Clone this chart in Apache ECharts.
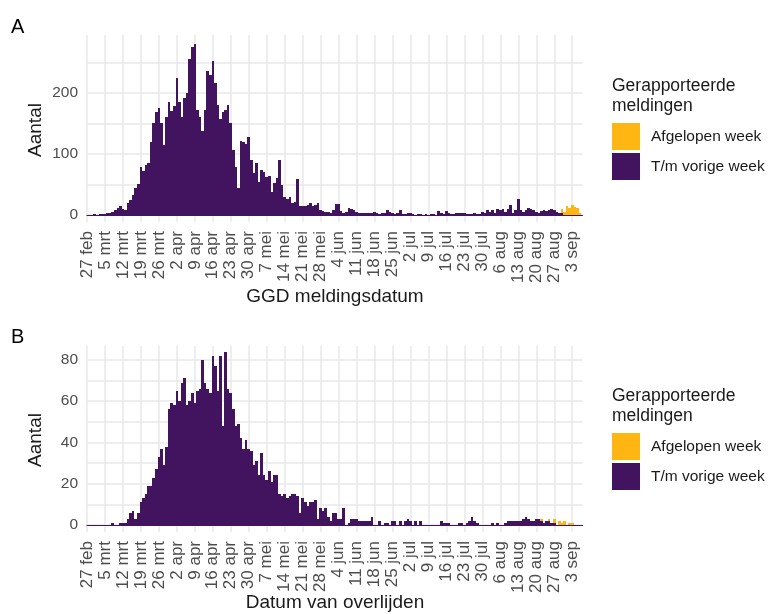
<!DOCTYPE html>
<html><head><meta charset="utf-8">
<script src="https://cdn.jsdelivr.net/npm/echarts@6/dist/echarts.min.js"></script>
<style>html,body{margin:0;padding:0;background:#fff}#c{width:771px;height:614px}</style>
</head><body><div id="c"></div>
<script>
// ---- data ----
const startDate = '2020-02-27';
const dayCount = 194;
const weekLabels = ['27 feb','5 mrt','12 mrt','19 mrt','26 mrt','2 apr','9 apr','16 apr','23 apr','30 apr',
  '7 mei','14 mei','21 mei','28 mei','4 jun','11 jun','18 jun','25 jun','2 jul','9 jul','16 jul','23 jul',
  '30 jul','6 aug','13 aug','20 aug','27 aug','3 sep'];
const yTicksA = [0, 50, 100, 150, 200, 250];
const yLabelsA = [0, 100, 200];
const yTicksB = [0, 10, 20, 30, 40, 50, 60, 70, 80];
const yLabelsB = [0, 20, 40, 60, 80];

const meldingenVorigeWeek = [
  0,0,0,1,0,1,1,2,3,4,
  5,8,12,14,9,8,20,25,33,45,
  50,78,72,82,85,120,150,168,175,150,
  115,160,185,170,178,225,185,160,192,200,
  255,275,280,172,160,138,172,236,230,253,
  217,180,158,168,172,180,150,106,78,45,
  122,120,116,128,90,68,85,54,73,71,
  62,64,37,52,60,90,49,30,27,30,
  19,22,59,14,14,14,16,20,15,16,
  20,8,7,5,5,4,8,18,18,7,
  4,5,11,9,8,5,4,4,4,3,
  3,4,5,3,2,3,4,8,5,3,
  2,4,8,2,2,3,3,1,0,1,
  1,0,2,0,1,2,0,7,3,1,
  7,3,1,2,4,4,4,3,2,1,
  2,4,2,2,5,3,8,5,8,3,
  9,8,10,5,9,16,3,8,27,8,
  5,8,11,10,8,5,3,7,8,7,
  8,10,8,5,3,4,0,0,0,0,
  0,0,0,0];
const meldingenAfgelopenWeek = [
  0,0,0,0,0,0,0,0,0,0, 0,0,0,0,0,0,0,0,0,0, 0,0,0,0,0,0,0,0,0,0,
  0,0,0,0,0,0,0,0,0,0, 0,0,0,0,0,0,0,0,0,0, 0,0,0,0,0,0,0,0,0,0,
  0,0,0,0,0,0,0,0,0,0, 0,0,0,0,0,0,0,0,0,0, 0,0,0,0,0,0,0,0,0,0,
  0,0,0,0,0,0,0,0,0,0, 0,0,0,0,0,0,0,0,0,0, 0,0,0,0,0,0,0,0,0,0,
  0,0,0,0,0,0,0,0,0,0, 0,0,0,0,0,0,0,0,0,0, 0,0,0,0,0,0,0,0,0,0,
  0,0,0,0,0,0,0,0,0,0, 0,0,0,0,0,0,0,0,0,0, 0,0,0,0,0,0,0,0,0,0,
  0,0,0,0,0,6,5,15,11,16,
  13,12,4,0];
const overlijdenVorigeWeek = [
  0,0,0,0,0,0,0,0,0,0,
  1,0,0,1,1,1,3,6,7,3,
  6,11,13,15,19,19,23,27,33,37,
  29,38,56,59,58,65,60,69,71,58,
  60,64,59,65,66,80,69,66,64,82,
  77,65,82,48,84,66,64,56,48,49,
  42,37,41,37,36,29,31,24,35,24,
  22,26,21,24,24,15,14,15,13,14,
  15,15,14,6,13,11,9,11,11,12,
  3,8,7,8,4,2,6,6,3,3,
  8,0,1,3,3,3,2,2,2,2,
  2,4,0,0,2,0,1,1,0,2,
  2,0,2,0,2,3,2,0,2,0,
  2,0,0,0,0,0,0,0,2,1,
  1,1,0,0,0,1,1,0,1,2,
  4,2,1,0,0,0,0,0,1,0,
  1,0,0,1,2,2,2,2,2,2,
  3,4,3,2,2,3,3,2,1,2,
  2,1,1,0,0,0,0,0,0,0,
  0,0,0,0];
const overlijdenAfgelopenWeek = [
  0,0,0,0,0,0,0,0,0,0, 0,0,0,0,0,0,0,0,0,0, 0,0,0,0,0,0,0,0,0,0,
  0,0,0,0,0,0,0,0,0,0, 0,0,0,0,0,0,0,0,0,0, 0,0,0,0,0,0,0,0,0,0,
  0,0,0,0,0,0,0,0,0,0, 0,0,0,0,0,0,0,0,0,0, 0,0,0,0,0,0,0,0,0,0,
  0,0,0,0,0,0,0,0,0,0, 0,0,0,0,0,0,0,0,0,0, 0,0,0,0,0,0,0,0,0,0,
  0,0,0,0,0,0,0,0,0,0, 0,0,0,0,0,0,0,0,0,0, 0,0,0,0,0,0,0,0,0,0,
  0,0,0,0,0,0,0,0,0,0, 0,0,0,0,0,0,0,0,0,0,
  0,0,0,0,0,0,0,1,0,0,
  1,0,2,0,2,1,2,0,1,1,
  0,0,0,0];

// ---- build ----
const categories = [];
{
  const d0 = new Date(startDate + 'T00:00:00Z');
  for (let i = 0; i < dayCount; i++) {
    const d = new Date(d0.getTime() + i * 86400000);
    categories.push(d.toISOString().slice(0, 10));
  }
}
const PURPLE = '#42145F', YELLOW = '#FFB612';
const FONT = '"Liberation Sans", Arial, sans-serif';
const GRID = '#e9e9e9';
const isWeek = (i) => i % 7 === 0;

function xAxisFor(gi) {
  return {
    gridIndex: gi, type: 'category', data: categories, boundaryGap: false,
    axisLine: { show: true, onZero: true, lineStyle: { color: PURPLE, width: 1.2 } },
    axisTick: { show: false },
    axisLabel: {
      interval: (i) => isWeek(i), rotate: 90, margin: 9,
      color: '#4d4d4d', fontSize: 17, fontFamily: FONT,
      formatter: (v, i) => weekLabels[Math.round(i / 7)]
    },
    splitLine: { show: true, interval: (i) => isWeek(i), lineStyle: { color: GRID, width: 1.5 } }
  };
}
function yAxisFor(gi, min, max, ticks, labels) {
  return {
    gridIndex: gi, type: 'value', min: min, max: max,
    axisLine: { show: false },
    axisTick: { show: false, customValues: ticks },
    axisLabel: { customValues: labels, color: '#4d4d4d', fontSize: 15.5, fontFamily: FONT, margin: 9 },
    splitLine: { show: true, lineStyle: { color: GRID, width: 1.5 } }
  };
}
// Daily bars (one per category), stacked on an optional base series.
// Edges are snapped to whole pixels so neighbouring bars join without seams.
function daySeries(name, gi, values, base, color) {
  const data = values.map((v, i) => [i, base ? base[i] : 0, v]);
  return {
    name: name, type: 'custom', xAxisIndex: gi, yAxisIndex: gi, data: data, silent: true,
    itemStyle: { color: color },
    encode: { x: 0, y: [1, 2] },
    renderItem: function (params, api) {
      const i = api.value(0), b = api.value(1), v = api.value(2);
      if (!(v > 0)) return null;
      const half = api.size([1, 0])[0] / 2;
      const p0 = api.coord([i, b]);
      const p1 = api.coord([i, b + v]);
      const x0 = Math.round(p0[0] - half), x1 = Math.round(p0[0] + half);
      const yb = Math.round(p0[1]), yt = Math.round(p1[1]);
      return { type: 'rect', shape: { x: x0, y: yt, width: x1 - x0, height: Math.max(1, yb - yt) }, style: { fill: color } };
    }
  };
}
function legendFor(top) {
  return {
    top: top, left: 612, padding: 0, orient: 'vertical', icon: 'rect', itemWidth: 28, itemHeight: 27, itemGap: 3,
    selectedMode: false, data: ['Afgelopen week', 'T/m vorige week'],
    itemStyle: { borderWidth: 0 },
    textStyle: { fontSize: 15.5, color: '#1a1a1a', fontFamily: FONT, padding: [0, 0, 0, 6] }
  };
}
function txt(text, x, y, size, extra) {
  return {
    type: 'text', x: x, y: y,
    style: Object.assign({ text: text, fontSize: size, fontFamily: FONT, fill: '#1a1a1a', align: 'left', verticalAlign: 'middle' }, extra || {})
  };
}

const chart = echarts.init(document.getElementById('c'), null, { renderer: 'canvas' });
chart.setOption({
  animation: false,
  backgroundColor: '#ffffff',
  grid: [
    { left: 87, top: 35, width: 495.5, height: 187 },
    { left: 87, top: 346, width: 495.5, height: 186 }
  ],
  xAxis: [xAxisFor(0), xAxisFor(1)],
  yAxis: [
    yAxisFor(0, -11.5, 295, yTicksA, yLabelsA),
    yAxisFor(1, -3.4, 86.7, yTicksB, yLabelsB)
  ],
  legend: [legendFor(123), legendFor(433)],
  series: [
    daySeries('T/m vorige week', 0, meldingenVorigeWeek, null, PURPLE),
    daySeries('Afgelopen week', 0, meldingenAfgelopenWeek, meldingenVorigeWeek, YELLOW),
    daySeries('T/m vorige week', 1, overlijdenVorigeWeek, null, PURPLE),
    daySeries('Afgelopen week', 1, overlijdenAfgelopenWeek, overlijdenVorigeWeek, YELLOW)
  ],
  graphic: [
    txt('A', 11, 27, 20, { fill: '#000' }),
    txt('B', 11, 337, 20, { fill: '#000' }),
    Object.assign(txt('Aantal', 36, 130, 19, { align: 'center' }), { rotation: Math.PI / 2 }),
    Object.assign(txt('Aantal', 36, 440, 19, { align: 'center' }), { rotation: Math.PI / 2 }),
    txt('GGD meldingsdatum', 335, 297, 19, { align: 'center' }),
    txt('Datum van overlijden', 335, 603, 19, { align: 'center' }),
    txt('Gerapporteerde\nmeldingen', 612, 96, 17.5, { lineHeight: 20 }),
    txt('Gerapporteerde\nmeldingen', 612, 406, 17.5, { lineHeight: 20 })
  ]
});
</script>
</body></html>
